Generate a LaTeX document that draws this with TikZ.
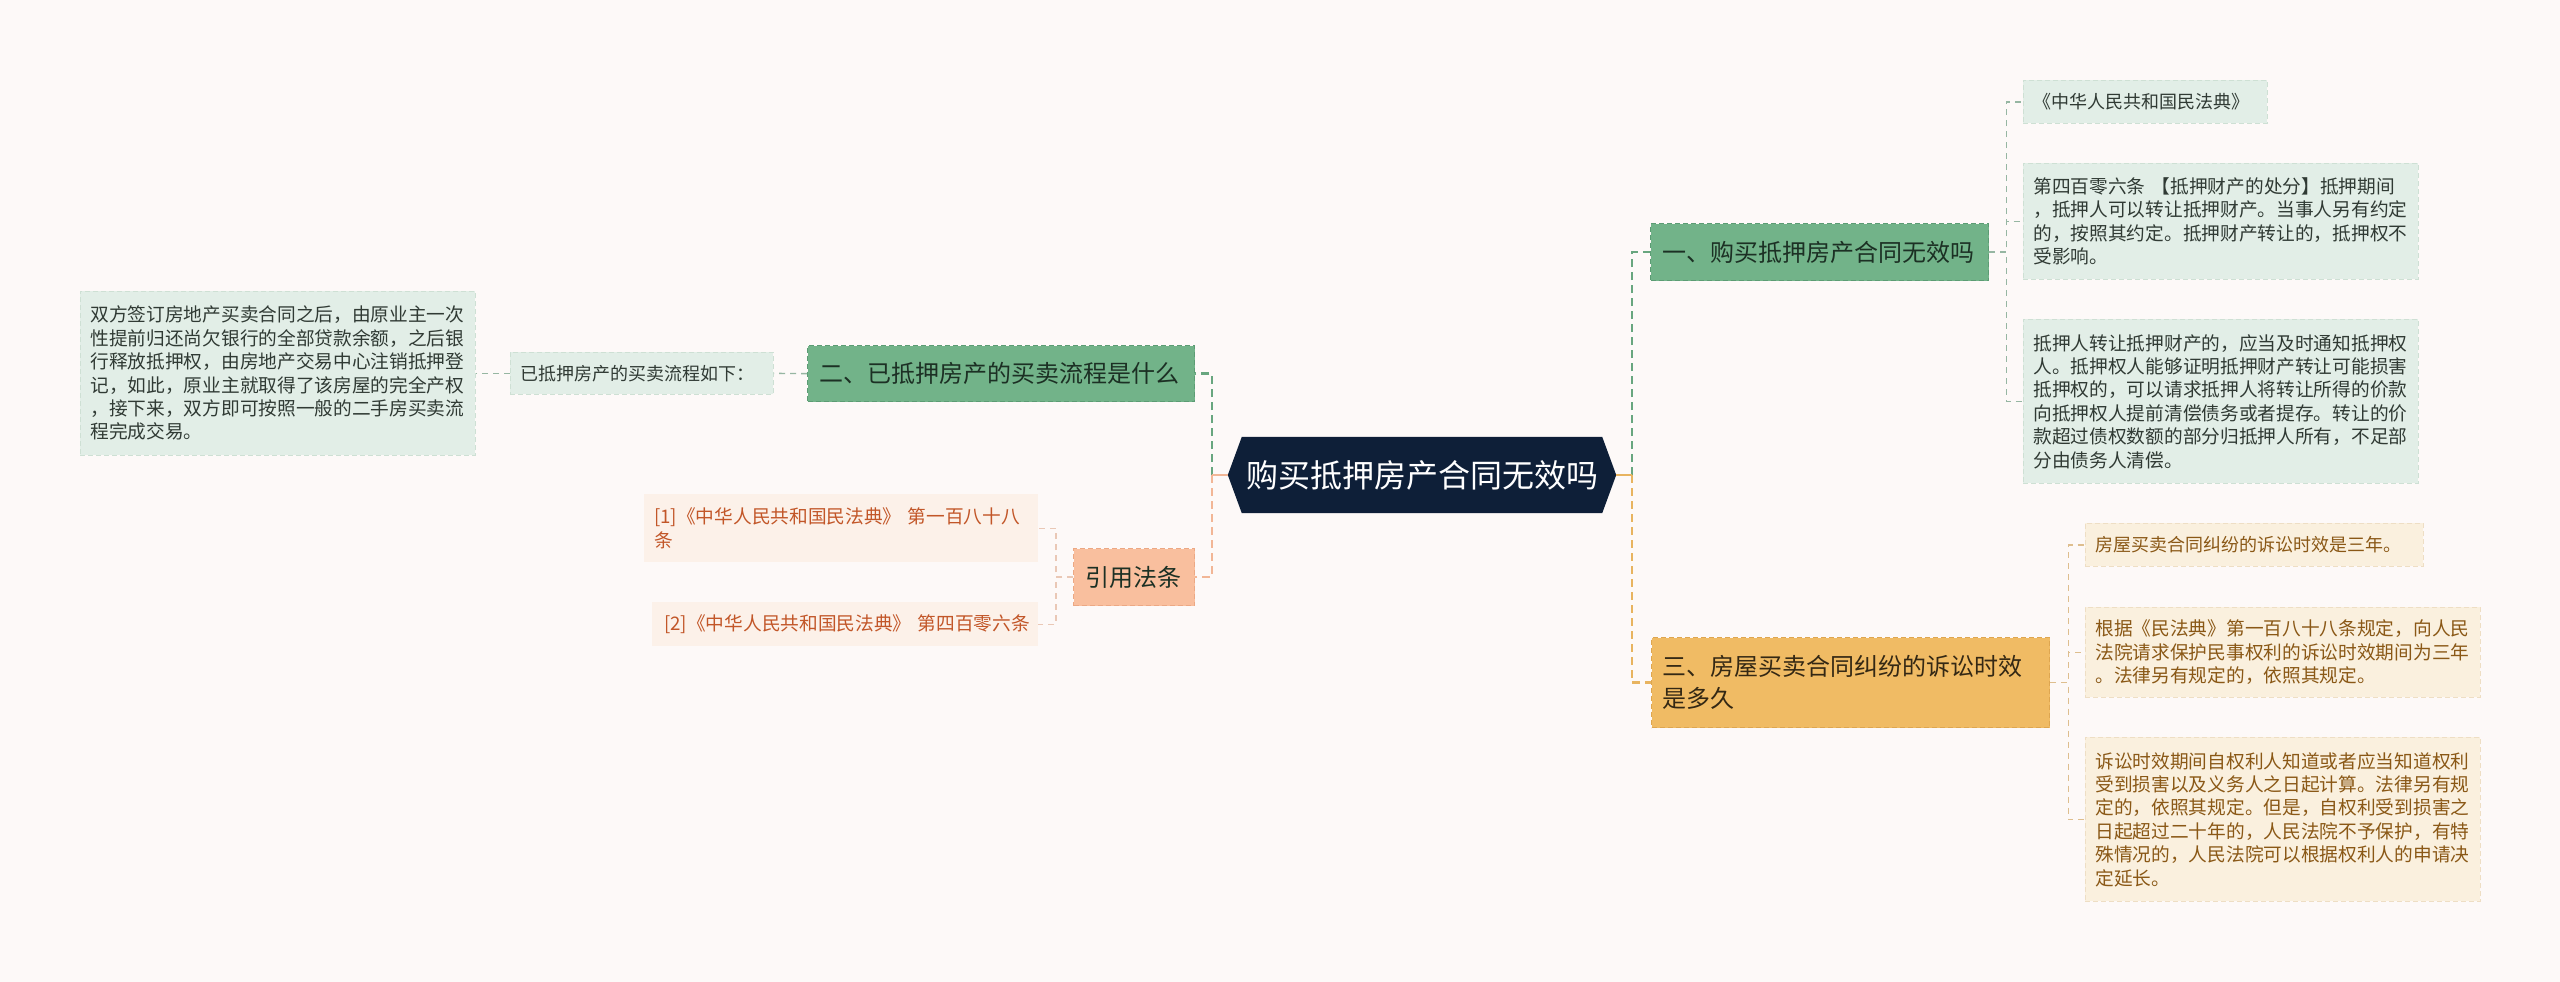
\documentclass[tikz,border=0pt]{standalone}
\usepackage{fontspec}
\setmainfont{Noto Sans CJK SC}
\usetikzlibrary{calc}
\pgfdeclarelayer{background}
\pgfsetlayers{background,main}
\definecolor{bgc}{RGB}{253,249,248}
\definecolor{navy}{RGB}{14,31,56}
\definecolor{gfill}{RGB}{114,179,137}
\definecolor{gborder}{RGB}{92,156,116}
\definecolor{gtext}{RGB}{28,48,36}
\definecolor{gdfill}{RGB}{226,238,231}
\definecolor{gdborder}{RGB}{206,224,212}
\definecolor{gdtext}{RGB}{48,58,52}
\definecolor{gline}{RGB}{104,166,127}
\definecolor{gthinline}{RGB}{150,182,162}
\definecolor{sfill}{RGB}{249,191,158}
\definecolor{sborder}{RGB}{236,168,132}
\definecolor{sline}{RGB}{242,182,150}
\definecolor{sthinline}{RGB}{234,200,182}
\definecolor{cfill}{RGB}{252,241,233}
\definecolor{ctext}{RGB}{194,86,40}
\definecolor{yfill}{RGB}{240,187,100}
\definecolor{yborder}{RGB}{222,166,80}
\definecolor{ytext}{RGB}{52,40,20}
\definecolor{yline}{RGB}{232,180,96}
\definecolor{ydfill}{RGB}{250,240,222}
\definecolor{ydborder}{RGB}{238,222,196}
\definecolor{ydtext}{RGB}{138,88,22}
\definecolor{ythinline}{RGB}{222,190,142}
\tikzset{
  boxbase/.style={rectangle, anchor=north west, inner xsep=10pt, inner ysep=0pt, align=left},
  smallfont/.style={font=\fontsize{18}{23.4}\selectfont},
  detfont/.style={font=\fontsize{18.7}{23.4}\selectfont},
  mainfont/.style={font=\fontsize{24}{32}\selectfont},
  gmainbox/.style={boxbase, mainfont, fill=gfill, draw=gborder, dash pattern=on 5pt off 3pt, line width=1.2pt, text=gtext, inner xsep=12pt},
  ymainbox/.style={boxbase, mainfont, fill=yfill, draw=yborder, dash pattern=on 5pt off 3pt, line width=1.2pt, text=ytext, inner xsep=11pt},
  smainbox/.style={boxbase, mainfont, fill=sfill, draw=sborder, dash pattern=on 5pt off 3pt, line width=1.2pt, text=gtext, inner xsep=12pt},
  gdetbox/.style={boxbase, fill=gdfill, draw=gdborder, dash pattern=on 5pt off 3pt, line width=0.8pt, text=gdtext},
  ydetbox/.style={boxbase, fill=ydfill, draw=ydborder, dash pattern=on 5pt off 3pt, line width=0.8pt, text=ydtext},
  citebox/.style={boxbase, fill=cfill, text=ctext},
  mainline/.style={line width=2.4pt, dash pattern=on 8pt off 5pt},
  thinline/.style={line width=1.4pt, dash pattern=on 6pt off 5pt},
}
\begin{document}
\begin{tikzpicture}[x=1pt,y=-1pt]
\begin{pgfonlayer}{background}
\fill[bgc] (0,0) rectangle (2560,982);
\end{pgfonlayer}
\useasboundingbox (0,0) rectangle (2560,982);

% centre
\node[rectangle, minimum width=388pt, minimum height=76pt, inner sep=0pt, text=white, font=\fontsize{32}{36}\selectfont] (C) at (1422,475) {购买抵押房产合同无效吗};
\begin{pgfonlayer}{background}
\fill[navy] (C.west) -- ($(C.north west)+(14,0)$) -- ($(C.north east)+(-14,0)$) -- (C.east) -- ($(C.south east)+(-14,0)$) -- ($(C.south west)+(14,0)$) -- cycle;
\end{pgfonlayer}

% left side
\node[gmainbox, text width=363pt, minimum height=56pt] (N2) at (807,345) {二、已抵押房产的买卖流程是什么};
\node[gdetbox, smallfont, text width=243pt, minimum height=42pt] (P) at (510,352) {已抵押房产的买卖流程如下：};
\node[gdetbox, detfont, text width=375pt, minimum height=164pt] (L) at (80,291) {双方签订房地产买卖合同之后，由原业主一次\\性提前归还尚欠银行的全部贷款余额，之后银\\行释放抵押权，由房地产交易中心注销抵押登\\记，如此，原业主就取得了该房屋的完全产权\\，接下来，双方即可按照一般的二手房买卖流\\程完成交易。};

\node[smainbox, text width=97pt, minimum height=57pt] (Q) at (1073,548) {引用法条};
\node[citebox, detfont, text width=374pt, minimum height=68pt] (Q1) at (644,494) {[1]《中华人民共和国民法典》~第一百八十八\\条};
\node[citebox, detfont, text width=374pt, minimum height=44pt, inner xsep=6pt] (Q2) at (652,602) {\hspace{6pt}[2]《中华人民共和国民法典》~第四百零六条};

% right side
\node[gmainbox, text width=314pt, minimum height=57pt] (N1) at (1650,223) {一、购买抵押房产合同无效吗};
\node[gdetbox, smallfont, text width=224pt, minimum height=43pt] (D1) at (2023,80) {《中华人民共和国民法典》};
\node[gdetbox, detfont, text width=375pt, minimum height=116pt] (D2) at (2023,163) {第四百零六条~【抵押财产的处分】抵押期间\\，抵押人可以转让抵押财产。当事人另有约定\\的，按照其约定。抵押财产转让的，抵押权不\\受影响。};
\node[gdetbox, detfont, text width=375pt, minimum height=164pt] (D3) at (2023,319) {抵押人转让抵押财产的，应当及时通知抵押权\\人。抵押权人能够证明抵押财产转让可能损害\\抵押权的，可以请求抵押人将转让所得的价款\\向抵押权人提前清偿债务或者提存。转让的价\\款超过债权数额的部分归抵押人所有，不足部\\分由债务人清偿。};

\node[ymainbox, text width=376pt, minimum height=90pt] (N3) at (1651,637) {三、房屋买卖合同纠纷的诉讼时效\\是多久};
\node[ydetbox, smallfont, text width=318pt, minimum height=43pt] (R1) at (2085,523) {房屋买卖合同纠纷的诉讼时效是三年。};
\node[ydetbox, detfont, text width=375pt, minimum height=90pt] (R2) at (2085,607) {根据《民法典》第一百八十八条规定，向人民\\法院请求保护民事权利的诉讼时效期间为三年\\。法律另有规定的，依照其规定。};
\node[ydetbox, detfont, text width=375pt, minimum height=164pt] (R3) at (2085,737) {诉讼时效期间自权利人知道或者应当知道权利\\受到损害以及义务人之日起计算。法律另有规\\定的，依照其规定。但是，自权利受到损害之\\日起超过二十年的，人民法院不予保护，有特\\殊情况的，人民法院可以根据权利人的申请决\\定延长。};

% main connectors
\coordinate (cl) at (1212,475);
\coordinate (cr) at (1632,475);
\draw[mainline, gline] (cl) |- (N2.east);
\draw[mainline, sline] (cl) |- (Q.east);
\draw[line width=2.4pt, sline] (C.west) -- (cl);
\draw[mainline, gline] (cr) |- (N1.west);
\draw[mainline, yline] (cr) |- (N3.west);
\draw[line width=2.4pt, yline] (C.east) -- (cr);

% detail connectors
\draw[thinline, gthinline] (N2.west) -- (P.east);
\draw[thinline, gthinline] (P.west) -- (L.east);
\draw[thinline, sthinline] (Q.west) -- ++(-17,0) |- (Q1.east);
\draw[thinline, sthinline] (Q.west) -- ++(-17,0) |- (Q2.east);
\draw[thinline, gthinline] (N1.east) -- ++(17,0) |- (D1.west);
\draw[thinline, gthinline] (N1.east) -- ++(17,0) |- (D2.west);
\draw[thinline, gthinline] (N1.east) -- ++(17,0) |- (D3.west);
\draw[thinline, ythinline] (N3.east) -- ++(18,0) |- (R1.west);
\draw[thinline, ythinline] (N3.east) -- ++(18,0) |- (R2.west);
\draw[thinline, ythinline] (N3.east) -- ++(18,0) |- (R3.west);
\end{tikzpicture}
\end{document}
